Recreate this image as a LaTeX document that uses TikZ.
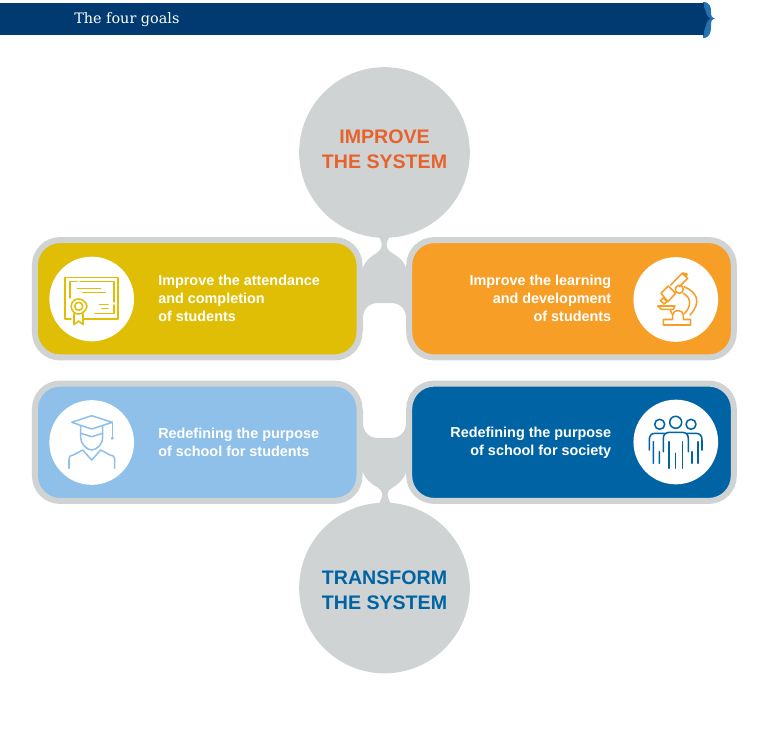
\documentclass[tikz,border=0pt]{standalone}
\usepackage{xcolor}
\usepackage{fontspec}
\usepackage{tikz}
\setmainfont{DejaVu Serif}
\setsansfont{Liberation Sans}
\definecolor{barblue}{RGB}{0,58,112}
\definecolor{braceblue}{RGB}{38,113,176}
\definecolor{linkgray}{RGB}{207,211,212}
\definecolor{goalyellow}{RGB}{223,190,5}
\definecolor{goalorange}{RGB}{247,158,39}
\definecolor{goalsky}{RGB}{143,192,233}
\definecolor{goalblue}{RGB}{0,99,163}
\definecolor{headorange}{RGB}{232,98,44}
\tikzset{
  hub/.style={circle,fill=linkgray,minimum size=128pt,inner sep=0pt},
  card/.style={rectangle,draw=linkgray,line width=4.5pt,rounded corners=18.75pt,minimum width=243.4pt,minimum height=88pt,inner sep=0pt},
  disc/.style={circle,fill=white,minimum size=63.5pt,inner sep=0pt},
  hubtext/.style={font=\sffamily\bfseries\fontsize{14.7}{18.6}\selectfont,align=center,inner sep=0.75pt},
  cardtext/.style={font=\sffamily\bfseries\fontsize{10.8}{13.5}\selectfont,text=white,inner sep=0.75pt},
  icon/.style={line width=1.15pt,line cap=round,line join=round}
}
\begin{document}
\begin{tikzpicture}[x=0.75pt,y=0.75pt,yscale=-1,xscale=1]
    \useasboundingbox (0,0) rectangle (768,729);
    % title bar
    \fill [braceblue] (703,2) .. controls (710,2) and (711,7) .. (711,12) .. controls (711,16) and (711.5,17.5) .. (715,18.5) .. controls (711.5,19.5) and (711,21) .. (711,26) .. controls (711,32) and (710,38) .. (703,38) -- cycle ;
    \draw (352,19) node (bar) [fill=barblue,minimum width=528pt,minimum height=24pt,inner sep=0pt] {};
    \fill [barblue] (704,7) .. controls (706,12) and (706,16) .. (710,18.5) .. controls (706,21) and (706,26) .. (704,31) -- cycle ;
    \draw (74,19.5) node (title) [anchor=west,inner sep=0pt,text=white,font=\fontsize{10.8}{13}\selectfont] {The four goals};
    % necks under the cards
    \fill [linkgray] (376.7,234) .. controls (380.5,238) and (381.7,242) .. (381.7,245) .. controls (381.7,249) and (379,251.5) .. (376.7,253) .. controls (370,257) and (365,261) .. (362,270) -- (361,330) -- (363,330) -- (363,318) .. controls (363,309) and (369,303) .. (378,303) -- (391,303) .. controls (400,303) and (406,309) .. (406,318) -- (406,330) -- (408,330) -- (407,270) .. controls (404,261) and (399,257) .. (392,253) .. controls (389.5,251.5) and (386.7,249) .. (386.7,245) .. controls (386.7,242) and (388,238) .. (392,234) -- cycle ;
    \fill [linkgray] (361,410) -- (363,410) -- (363,423) .. controls (363,432) and (369,438) .. (378,438) -- (391,438) .. controls (400,438) and (406,432) .. (406,423) -- (406,410) -- (408,410) -- (407,470) .. controls (404,479) and (399,484) .. (392,488) .. controls (389.5,489.5) and (387.6,491) .. (387.6,494) .. controls (387.6,497) and (389,501) .. (393,507) -- (377,507) .. controls (381,501) and (382.3,497) .. (382.3,494) .. controls (382.3,491) and (380,489.5) .. (377,487) .. controls (370,483) and (365,479) .. (362,470) -- cycle ;
    % the two hubs
    \draw (384.5,152.5) node (improve) [hub] {};
    \draw (384.5,588) node (transform) [hub] {};
    \draw (384.5,149) node (improvetext) [hubtext,text=headorange] {IMPROVE\\THE SYSTEM};
    \draw (384.5,590.5) node (transformtext) [hubtext,text=goalblue] {TRANSFORM\\THE SYSTEM};
    % the four cards
    \draw (197.25,298.75) node (attendance) [card,fill=goalyellow] {};
    \draw (571.5,298.75) node (learning) [card,fill=goalorange] {};
    \draw (197.25,442.25) node (students) [card,fill=goalsky] {};
    \draw (571.5,442.25) node (society) [card,fill=goalblue] {};
    \draw (91.7,299) node (attendancedisc) [disc] {};
    \draw (675.8,299.5) node (learningdisc) [disc] {};
    \draw (91.7,442.5) node (studentsdisc) [disc] {};
    \draw (675.8,442) node (societydisc) [disc] {};
    \draw (157,298) node (attendancetext) [cardtext,anchor=west,align=left] {Improve the attendance\\and completion\\of students};
    \draw (612.5,298) node (learningtext) [cardtext,anchor=east,align=right] {Improve the learning\\and development\\of students};
    \draw (157,442) node (studentstext) [cardtext,anchor=west,align=left] {Redefining the purpose\\of school for students};
    \draw (612.5,443) node (societytext) [cardtext,anchor=east,align=right] {Redefining the purpose\\of school for society};
    % certificate
    \draw [icon,goalyellow] (71,319) -- (65,319) -- (65,277.3) -- (118,277.3) -- (118,319) -- (83,319) ;
    \draw [icon,goalyellow] (70,298) -- (70,281.7) -- (77,281.7) (80,281.7) -- (114,281.7) -- (114,302) (114,305) -- (114,313.3) -- (95,313.3) ;
    \draw [icon,goalyellow] (77.5,288.3) -- (100.5,288.3) (82.5,292.3) -- (105,292.3) (99.5,304.3) -- (108,304.3) (102,308.3) -- (108,308.3) ;
    \draw [icon,goalyellow] (78.7,306.3) circle [radius=4] ;
    \draw [icon,goalyellow] (71,306.3) .. controls (71,303) and (73,302) .. (74,300.5) .. controls (76,298.5) and (81,298.5) .. (83,300.5) .. controls (84.5,302) and (87,303) .. (87,306.3) .. controls (87,309.5) and (84.5,311) .. (83,312.5) .. controls (81,314.5) and (76,314.5) .. (74,312.5) .. controls (73,311) and (71,309.5) .. (71,306.3) ;
    \draw [icon,goalyellow] (74,314) -- (74,324.5) -- (78.7,321) -- (83,324.5) -- (83,314) ;
    % microscope
    \draw [icon,goalorange] (663.3,319.5) -- (663.3,325) -- (690.7,325) -- (690.7,319.5) -- (683.3,319.5) -- (683.3,315) .. controls (683.3,309) and (672.7,309) .. (672.7,315) -- (672.7,319.5) -- cycle ;
    \draw [icon,goalorange] (657.7,306) -- (675,306) -- (673.3,309.3) -- (661.7,309.3) -- cycle (670,309.3) -- (672,314) ;
    \draw [icon,goalorange] (684,286.7) .. controls (697,292) and (702,302) .. (690,315) (683.3,293.3) .. controls (692,298) and (691,307) .. (684.5,313.5) ;
    \draw [icon,goalorange] (679.3,289.3) circle [radius=4] ;
    \draw [icon,goalorange] (661,293.3) -- (668.3,286) -- (675.5,293.3) -- (668,301.7) -- cycle (663.3,298) -- (667,301.5) -- (664,304) -- (660.5,300.5) -- cycle ;
    \draw [icon,goalorange] (670.7,285) -- (682,273.3) -- (687.7,278.3) -- (679.5,286.5) (682,273.3) -- (684,273) (686,274.5) circle [radius=1.2] ;
    % graduate
    \draw [icon,goalsky] (71.7,422.3) -- (91.7,415.7) -- (112.3,422.3) -- (91.7,429) -- cycle ;
    \draw [icon,goalsky] (112.3,422.3) -- (112.3,436.7) ;
    \draw [icon,goalsky,fill=goalsky] (112.3,438.3) circle [radius=0.7] ;
    \draw [icon,goalsky] (80.7,426) -- (80.7,433.3) -- (91.7,436.7) -- (102.7,433.3) -- (102.7,426) ;
    \draw [icon,goalsky] (80.7,433.3) -- (80.7,438) .. controls (80.7,444) and (87,450) .. (91.7,450) .. controls (96.5,450) and (102.7,444) .. (102.7,438) -- (102.7,433.3) ;
    \draw [icon,goalsky] (69,468.3) -- (69,460) .. controls (69,456) and (71,455) .. (73.3,455) -- (82.7,450) -- (91.7,460) -- (100.7,450) -- (110,455) .. controls (112.5,455) and (114.7,456) .. (114.7,460) -- (114.7,468.3) ;
    % people
    \draw [icon,goalblue] (675.7,422.3) circle [radius=6] (659.7,424.3) circle [radius=5] (691,424.3) circle [radius=5] ;
    \draw [icon,goalblue] (663.3,451.7) -- (663.3,438.3) .. controls (663.3,434) and (666,432.3) .. (670,432.3) -- (681.7,432.3) .. controls (685.5,432.3) and (688.3,434) .. (688.3,438.3) -- (688.3,451.7) ;
    \draw [icon,goalblue] (669,441.7) -- (669,468.3) (675.7,453.3) -- (675.7,468.3) (682.3,441.7) -- (682.3,468.3) ;
    \draw [icon,goalblue] (649.3,450) -- (649.3,440) .. controls (649.3,436) and (651,433.3) .. (655,433.3) -- (664.3,433.3) (653.3,441.7) -- (653.3,463.3) (659.3,451.7) -- (659.3,463.3) ;
    \draw [icon,goalblue] (702,450) -- (702,440) .. controls (702,436) and (700,433.3) .. (696,433.3) -- (687,433.3) (698,441.7) -- (698,463.3) (692,451.7) -- (692,463.3) ;
\end{tikzpicture}
\end{document}
